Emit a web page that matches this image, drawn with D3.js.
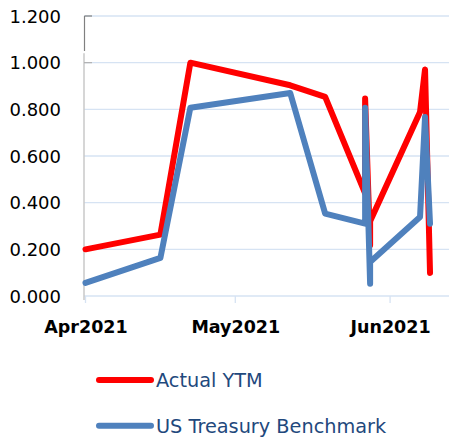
<!DOCTYPE html>
<html>
<head>
<script src="https://d3js.org/d3.v7.min.js"></script>
<style>
  body { margin: 0; background: #fff; }
</style>
</head>
<body>
<script>
// dates and values
var dates = ["2021-04-01", "2021-04-16", "2021-04-22", "2021-05-12", "2021-05-19",
             "2021-05-27", "2021-05-27", "2021-05-28", "2021-05-28",
             "2021-06-07", "2021-06-08", "2021-06-09"];
var actualYTM = [0.200, 0.263, 1.000, 0.903, 0.853, 0.440, 0.846, 0.217, 0.320, 0.789, 0.971, 0.099];
var treasury  = [0.056, 0.163, 0.807, 0.870, 0.353, 0.310, 0.807, 0.053, 0.146, 0.339, 0.767, 0.310];
var yTicks = [0, 0.2, 0.4, 0.6, 0.8, 1.0, 1.2];
var xTicks = ["2021-04-01", "2021-05-01", "2021-06-01"];
var seriesNames = ["Actual YTM", "US Treasury Benchmark"];

var width = 449, height = 440;
var parse = d3.timeParse("%Y-%m-%d");

var svg = d3.select("body").append("svg")
    .attr("width", width)
    .attr("height", height);

var x = d3.scaleTime()
    .domain([parse("2021-04-01"), parse("2021-06-13")])
    .range([85.5, 450]);
var y = d3.scaleLinear().domain([0, 1.2]).range([296, 16]);

// gridlines
svg.append("g").selectAll("line")
    .data(yTicks)
  .enter().append("line")
    .attr("x1", 84).attr("x2", width)
    .attr("y1", d => y(d)).attr("y2", d => y(d))
    .attr("stroke", "#d6e3f3").attr("stroke-width", 1.3);

// x tick marks
svg.append("g").selectAll("line")
    .data(xTicks)
  .enter().append("line")
    .attr("x1", d => x(parse(d))).attr("x2", d => x(parse(d)))
    .attr("y1", y(0)).attr("y2", y(0) + 7)
    .attr("stroke", "#d6e3f3").attr("stroke-width", 1.3);

// y axis line (dark at the top, pale below)
svg.append("line").attr("x1", 84.5).attr("x2", 84.5)
    .attr("y1", y(1.2)).attr("y2", y(1.05))
    .attr("stroke", "#808080").attr("stroke-width", 1.2);
svg.append("line").attr("x1", 84.5).attr("x2", 92)
    .attr("y1", y(1.2)).attr("y2", y(1.2))
    .attr("stroke", "#808080").attr("stroke-width", 1.2);
svg.append("line").attr("x1", 84).attr("x2", 84)
    .attr("y1", y(1.04)).attr("y2", y(0) + 4)
    .attr("stroke", "#c8c8c8").attr("stroke-width", 1.5);
svg.append("line").attr("x1", 84).attr("x2", 92)
    .attr("y1", y(1.0)).attr("y2", y(1.0))
    .attr("stroke", "#b0b0b0").attr("stroke-width", 1.2);

// y labels
svg.append("g").selectAll("text")
    .data(yTicks)
  .enter().append("text")
    .attr("x", 61).attr("y", d => y(d) + 6.8)
    .attr("text-anchor", "end")
    .style("font-family", "'DejaVu Sans', sans-serif")
    .style("font-size", "18px")
    .attr("fill", "#000")
    .text(d => d3.format(".3f")(d));

// x labels
var xFmt = d3.timeFormat("%b%Y");
svg.append("g").selectAll("text")
    .data(xTicks)
  .enter().append("text")
    .attr("x", d => x(parse(d)) + 0.5).attr("y", 333)
    .attr("text-anchor", "middle")
    .style("font-family", "'DejaVu Sans', sans-serif")
    .style("font-weight", "bold")
    .style("font-size", "17.5px")
    .attr("fill", "#000")
    .text(d => xFmt(parse(d)));

var line = d3.line()
    .x(d => x(parse(d[0])))
    .y(d => y(d[1]));

var colors = ["#ff0000", "#4f81bd"];
var series = [actualYTM, treasury];

series.forEach(function(vals, i) {
  svg.append("path")
      .datum(dates.map((d, j) => [d, vals[j]]))
      .attr("d", line)
      .attr("fill", "none")
      .attr("stroke", colors[i])
      .attr("stroke-width", 6)
      .attr("stroke-linecap", "round")
      .attr("stroke-linejoin", "round");
});

// legend
var legend = svg.append("g").selectAll("g")
    .data(seriesNames)
  .enter().append("g")
    .attr("transform", (d, i) => "translate(0," + (380 + i * 45.7) + ")");

legend.append("line")
    .attr("x1", 99).attr("x2", 151)
    .attr("stroke", (d, i) => colors[i])
    .attr("stroke-width", 6)
    .attr("stroke-linecap", "round");

legend.append("text")
    .attr("x", 156).attr("y", 7)
    .style("font-family", "'DejaVu Sans', sans-serif")
    .style("font-size", "19.3px")
    .attr("fill", "#1f497d")
    .text(d => d);
</script>
</body>
</html>
